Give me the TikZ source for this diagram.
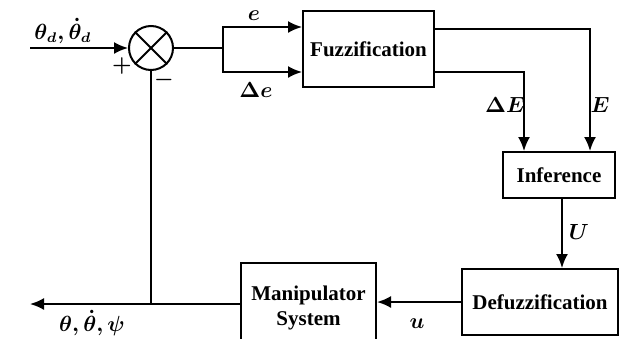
\documentclass[tikz,border=0pt]{standalone}
\usepackage{amsmath,amssymb,bm}
\usepackage{fontspec}
\setmainfont{Liberation Serif}
\usepackage{tikz}
\usetikzlibrary{arrows.meta, positioning}

\begin{document}
\begin{tikzpicture}[
    x=0.5pt, y=-0.5pt, font=\fontsize{10.5}{12.5}\selectfont\bfseries\boldmath,
    block/.style={draw=black, fill=white, line width=1pt, align=center, inner sep=2pt},
    summer/.style={draw=black, circle, minimum size=22pt, inner sep=0pt, line width=1pt},
    link/.style={-{Latex[length=7pt,width=6pt]}, line width=1pt},
    wire/.style={line width=1pt},
    lbl/.style={inner sep=1pt}
]
    \clip (0,0) rectangle (621,338);
    \fill[white] (0,0) rectangle (621,338);

    \node[summer] (sum) at (151,48) {};
    \draw[wire] (sum.north west) -- (sum.south east);
    \draw[wire] (sum.north east) -- (sum.south west);

    \node[block, minimum width=65.5pt, minimum height=38pt] (fuzz) at (368.5,49) {Fuzzification};
    \node[block, minimum width=56pt, minimum height=23pt] (infer) at (559,175) {Inference};
    \node[block, minimum width=78pt, minimum height=33pt] (defuzz) at (540,302) {Defuzzification};
    \node[block, minimum width=67.5pt, minimum height=45pt] (manip) at (308.5,308) {Manipulator\\System};

    \coordinate (in) at (30,48);
    \coordinate (split) at (223,48);
    \coordinate (out) at (30,304);

    \draw[link] (in) -- (sum.west);
    \draw[wire] (sum.east) -- (split);
    \draw[link] (split) |- ([yshift=11pt]fuzz.west);
    \draw[link] (split) |- ([yshift=-11.5pt]fuzz.west);
    \draw[link] ([yshift=10pt]fuzz.east) -| ([xshift=15.5pt]infer.north);
    \draw[link] ([yshift=-11.5pt]fuzz.east) -| ([xshift=-17.5pt]infer.north);
    \draw[link] ([xshift=1.5pt]infer.south) -- ([xshift=1.5pt]infer.south |- defuzz.north);
    \draw[link] (defuzz.west) -- (defuzz.west -| manip.east);
    \draw[link] (manip.west |- out) -- (out);
    \draw[wire] (sum.south) -- (sum.south |- out);

    \node[lbl] (ref) at (63,31) {$\theta_d,\dot{\theta}_d$};
    \node[lbl] (plus) at (122,66) {$+$};
    \node[lbl] (minus) at (164,80) {$-$};
    \node[lbl] (le) at (254,16) {$e$};
    \node[lbl] (lde) at (256,90) {$\Delta e$};
    \node[lbl] (ldE) at (505,105) {$\Delta E$};
    \node[lbl] (lE) at (600,105) {$E$};
    \node[lbl] (lU) at (579,232) {$U$};
    \node[lbl] (lu) at (417,324) {$u$};
    \node[lbl] (lout) at (92,323) {$\theta,\dot{\theta},\psi$};
\end{tikzpicture}
\end{document}
